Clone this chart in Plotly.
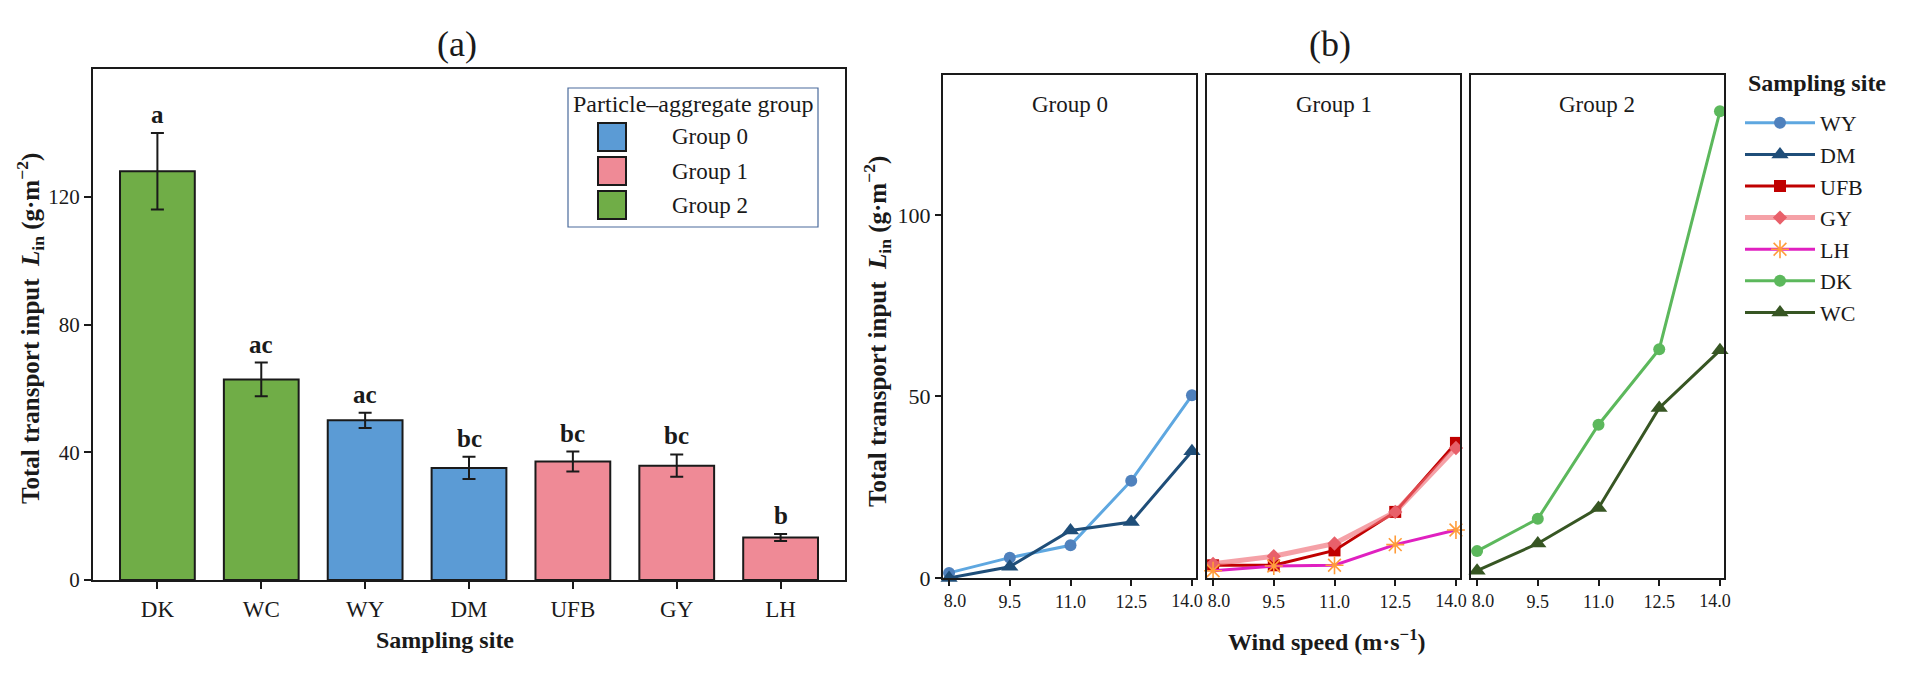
import plotly.graph_objects as go

# ---------------- data ----------------
sites = ["DK", "WC", "WY", "DM", "UFB", "GY", "LH"]
site_group = ["Group 2", "Group 2", "Group 0", "Group 0", "Group 1", "Group 1", "Group 1"]
means = [128.0, 62.8, 50.0, 35.1, 37.1, 35.8, 13.3]
errs = [12.0, 5.3, 2.4, 3.5, 3.1, 3.5, 1.1]
letters = ["a", "ac", "ac", "bc", "bc", "bc", "b"]
group_names = ["Group 0", "Group 1", "Group 2"]

wind = [8.0, 9.5, 11.0, 12.5, 14.0]
wy = [1.4, 5.6, 9.0, 26.8, 50.3]
dm = [0.0, 3.1, 13.1, 15.4, 34.9]
ufb = [3.5, 3.5, 7.6, 18.2, 37.2]
gy = [3.9, 6.0, 9.5, 18.2, 35.8]
lh = [2.0, 3.3, 3.5, 9.2, 13.2]
dk = [7.4, 16.3, 42.2, 63.0, 128.5]
wc = [2.0, 9.5, 19.3, 46.8, 62.7]

line_series = [
    ("WY", wy, 0), ("DM", dm, 0),
    ("UFB", ufb, 1), ("GY", gy, 1), ("LH", lh, 1),
    ("DK", dk, 2), ("WC", wc, 2),
]

# ---------------- styles ----------------
W, H = 1913, 673
FONT = "Liberation Serif, Times New Roman, serif"
TXT = "#1a1a1a"
group_colors = {"Group 0": "#5b9bd5", "Group 1": "#ef8a96", "Group 2": "#70ad47"}
line_styles = {
    "WY": dict(line=dict(color="#5ea7e0", width=3), marker=dict(symbol="circle", size=12, color="#4f81bd")),
    "DM": dict(line=dict(color="#1f4e79", width=3), marker=dict(symbol="triangle-up", size=15, color="#1f4e79")),
    "UFB": dict(line=dict(color="#c00000", width=3), marker=dict(symbol="square", size=12, color="#c00000")),
    "GY": dict(line=dict(color="rgba(240,110,120,0.65)", width=5), marker=dict(symbol="diamond", size=11, color="#e8606a")),
    "LH": dict(line=dict(color="#e020c0", width=3), marker=dict(symbol="asterisk-open", size=15, color="#ff9c3a",
                                                          line=dict(color="#ff9c3a", width=1.6))),
    "DK": dict(line=dict(color="#5cb85c", width=3), marker=dict(symbol="circle", size=12, color="#5cb85c")),
    "WC": dict(line=dict(color="#375623", width=3), marker=dict(symbol="triangle-up", size=15, color="#375623")),
}


def px(x):
    return x / W


def py(y):
    return 1 - y / H


fig = go.Figure()

# ---------------- panel (a): bars ----------------
for g in group_names:
    xs = [s for s, gg in zip(sites, site_group) if gg == g]
    ys = [m for m, gg in zip(means, site_group) if gg == g]
    es = [e for e, gg in zip(errs, site_group) if gg == g]
    fig.add_trace(go.Bar(
        x=xs, y=ys, name=g, width=0.72,
        marker=dict(color=group_colors[g], line=dict(color="#1a1a1a", width=2)),
        error_y=dict(type="data", array=es, visible=True, color="#1a1a1a", thickness=2, width=6.5),
        xaxis="x", yaxis="y", showlegend=False,
    ))

for s, m, e, l in zip(sites, means, errs, letters):
    fig.add_annotation(x=s, y=m + e, xref="x", yref="y", text="<b>%s</b>" % l, showarrow=False,
                       yanchor="bottom", yshift=3, font=dict(family=FONT, size=25, color=TXT))

# ---------------- panel (b): lines ----------------
for name, vals, gi in line_series:
    st = line_styles[name]
    ax = gi + 2
    fig.add_trace(go.Scatter(
        x=wind, y=vals, name=name, mode="lines+markers",
        line=st["line"], marker=st["marker"], cliponaxis=False,
        xaxis="x%d" % ax, yaxis="y%d" % ax, showlegend=True,
    ))

axis_common = dict(showline=True, linecolor="#1a1a1a", linewidth=2, mirror=True, showgrid=False,
                   zeroline=False, ticks="outside", tickcolor="#1a1a1a", tickwidth=2, automargin=False)

# domains
a_x = [px(93), px(845)]
a_y = [py(580), py(69)]
b_y = [py(578), py(75)]
b_x = [[px(943), px(1196)], [px(1207), px(1460)], [px(1471), px(1724)]]
b_range = [7.85, 14.1]
wind_labels = ["%.1f" % w for w in wind]
tick_font_b = dict(size=18, family=FONT, color=TXT)

layout = dict(
    width=W, height=H,
    margin=dict(l=0, r=0, t=0, b=0),
    paper_bgcolor="white", plot_bgcolor="white",
    barmode="overlay",
    font=dict(family=FONT, color=TXT),
    xaxis=dict(axis_common, domain=a_x, type="category", categoryorder="array", categoryarray=sites,
               range=[-0.62, 6.62], ticklen=7, tickfont=dict(size=23, family=FONT, color=TXT), anchor="y"),
    yaxis=dict(axis_common, domain=a_y, range=[0, 160], tickvals=[0, 40, 80, 120], ticklen=7,
               tickfont=dict(size=21, family=FONT, color=TXT), anchor="x"),
    legend=dict(x=px(1740), y=py(102), xanchor="left", yanchor="top", bgcolor="rgba(0,0,0,0)",
                font=dict(family=FONT, size=22, color=TXT), itemwidth=70, tracegroupgap=0),
)
for i in range(3):
    n = i + 2
    # main axis: ticks at every wind speed, inner labels only
    inner_text = [lab if 0 < k < len(wind) - 1 else "" for k, lab in enumerate(wind_labels)]
    layout["xaxis%d" % n] = dict(axis_common, domain=b_x[i], range=b_range, tickvals=wind, ticktext=inner_text,
                                 ticklen=6, tickfont=tick_font_b, anchor="y%d" % n)
    # overlay axes carrying the edge labels, nudged inward like the reference
    for k, (idx, shift) in enumerate([(0, 6), (len(wind) - 1, -5)]):
        m = 5 + 2 * i + k
        layout["xaxis%d" % m] = dict(domain=b_x[i], range=b_range, overlaying="x%d" % n, anchor="y%d" % n,
                                     side="bottom", tickvals=[wind[idx]], ticktext=[wind_labels[idx]],
                                     ticks="outside", ticklen=6, tickwidth=2, tickcolor="rgba(0,0,0,0)",
                                     ticklabelshift=shift, tickfont=tick_font_b, showline=False,
                                     showgrid=False, zeroline=False, automargin=False)
        # invisible carrier trace so the overlay axis is drawn
        fig.add_trace(go.Scatter(x=[wind[idx]], y=[0], mode="markers", marker=dict(opacity=0, size=1),
                                 hoverinfo="skip", showlegend=False, xaxis="x%d" % m, yaxis="y%d" % n))
    ydict = dict(axis_common, domain=b_y, range=[0, 138.5], anchor="x%d" % n)
    if i == 0:
        ydict.update(tickvals=[0, 50, 100], ticklen=6, tickfont=dict(size=22, family=FONT, color=TXT))
    else:
        ydict.update(showticklabels=False, ticks="")
    layout["yaxis%d" % n] = ydict

fig.update_layout(**layout)

# ---------------- titles / labels ----------------
def ann(x, y, text, size, angle=0, xanchor="center", yanchor="middle"):
    fig.add_annotation(x=px(x), y=py(y), xref="paper", yref="paper", text=text, showarrow=False,
                       textangle=angle, xanchor=xanchor, yanchor=yanchor,
                       font=dict(family=FONT, size=size, color=TXT))

ann(457, 44, "(a)", 36)
ann(1330, 44, "(b)", 36)
ann(445, 640, "<b>Sampling site</b>", 24)
ann(1327, 640, "<b>Wind speed (m·s<sup>−1</sup>)</b>", 24)
ytitle = "<b>Total transport input  <i>L</i><sub>in</sub> (g·m<sup>−2</sup>)</b>"
ann(30, 329, ytitle, 25, angle=-90)
ann(877, 332, ytitle, 25, angle=-90)
for i, g in enumerate(group_names):
    cx = (b_x[i][0] + b_x[i][1]) / 2 * W
    ann(cx, 104, g, 23)
ann(1746, 83, "<b>Sampling site</b>", 24, xanchor="left")

# manual legend for panel (a)
fig.add_shape(type="rect", xref="paper", yref="paper", x0=px(568), x1=px(818), y0=py(227), y1=py(88),
              line=dict(color="#4a6a9c", width=1.2), fillcolor="white", layer="above")
ann(693, 104, "Particle–aggregate group", 24)
rows_y = [137, 171, 205]
for g, yy in zip(group_names, rows_y):
    fig.add_shape(type="rect", xref="paper", yref="paper", x0=px(598), x1=px(626),
                  y0=py(yy + 14), y1=py(yy - 14), fillcolor=group_colors[g],
                  line=dict(color="#1a1a1a", width=2), layer="above")
    ann(670, yy, g, 23, xanchor="left")

fig.write_html("out.html")
